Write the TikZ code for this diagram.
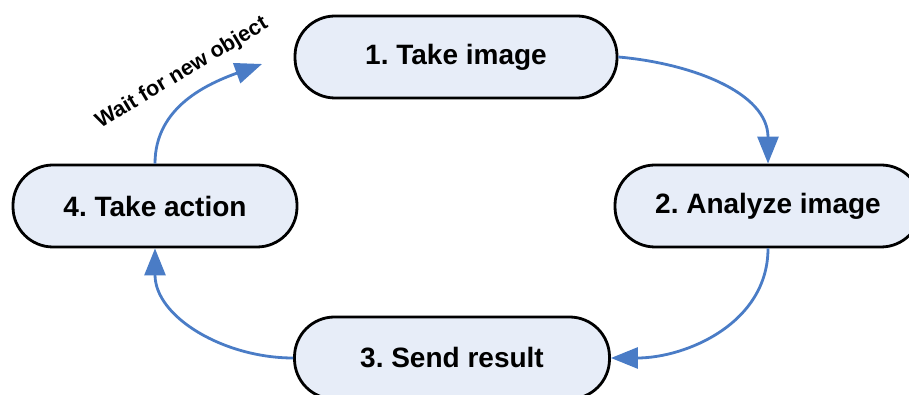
\documentclass[tikz,border=0pt]{standalone}
\usepackage{fontspec}
\setmainfont{Liberation Sans}
\usepackage{tikz}
\usetikzlibrary{arrows.meta, positioning}
\frenchspacing

\definecolor{stepfill}{HTML}{E7EDF8}
\definecolor{flowblue}{HTML}{4A7CC6}

\begin{document}
\begin{tikzpicture}[x=1pt, y=1pt,
		stepbox/.style={draw=black, line width=2.8pt, fill=stepfill, rounded corners=40pt, minimum height=82pt, inner sep=0pt, font=\fontsize{28}{32}\selectfont\bfseries},
		flow/.style={draw=flowblue, line width=2.8pt, -{Triangle[length=27pt, width=21pt]}}]
				\useasboundingbox (0, 0) rectangle (909, 395);
				
				% the four steps
				\node[stepbox, minimum width=322pt] (take) at (456, 338) {1. Take image};
				\node[stepbox, minimum width=306pt] (analyze) at (768, 189) {2. Analyze image};
				\node[stepbox, minimum width=315pt] (send) at (452, 37) {3. Send result};
				\node[stepbox, minimum width=284pt] (action) at (155, 189) {4. Take action};
				
				% loop
				\coordinate (wait) at (262, 331);
				\draw[flow] (take.east) to[out=-5, in=90] (analyze.north);
				\draw[flow] (analyze.south) to[out=-90, in=0] (send.east);
				\draw[flow] (send.west) to[out=180, in=-90] (action.south);
				\draw[flow] (action.north) to[out=90, in=200] (wait);
				\node[rotate=31, font=\fontsize{21.5}{24}\selectfont\bfseries] (waitlbl) at (182, 322) {Wait for new object};
			\end{tikzpicture}
\end{document}
